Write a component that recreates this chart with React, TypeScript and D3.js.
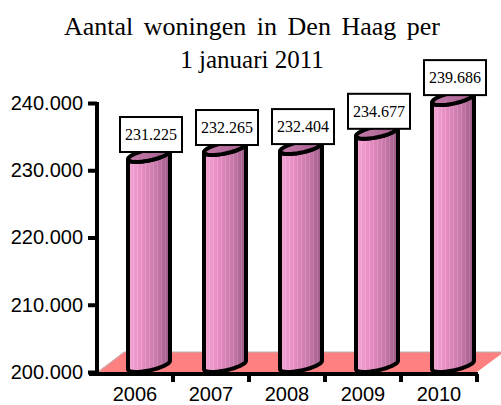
import React, { useEffect, useRef } from 'react';
import * as d3 from 'd3';

// Aantal woningen per jaar
const jaren = ['2006', '2007', '2008', '2009', '2010'];
const woningen = [231225, 232265, 232404, 234677, 239686];
const yTicks = [200000, 210000, 220000, 230000, 240000];
const titel = ['Aantal woningen in Den Haag per', '1 januari 2011'];

const App = () => {
  const ref = useRef<SVGSVGElement | null>(null);

  useEffect(() => {
    const svg = d3.select(ref.current);
    svg.selectAll('*').remove();

    const W = 501;
    const left = 97;
    const right = 477;
    const bottom = 372;
    const top = 103;
    const depth = { dx: 27, dy: -20 }; // diepte van de vloer
    const cyl = { dx: 14, dy: -7, rx: 21, ry: 5.5, k: 0.2 };

    const nl = d3.formatLocale({ decimal: ',', thousands: '.', grouping: [3], currency: ['', ''] });
    const fmt = nl.format(',');

    const x = d3.scaleBand().domain(jaren).range([left, right]).padding(0);
    const y = d3.scaleLinear().domain([200000, 240000]).range([bottom, top]);

    const defs = svg.append('defs');
    const body = defs
      .append('linearGradient')
      .attr('id', 'bodyGrad')
      .attr('x1', '0%')
      .attr('x2', '100%');
    [
      ['0%', '#f7a6d5'],
      ['35%', '#e58cc3'],
      ['70%', '#c677a8'],
      ['100%', '#9a5984'],
    ].forEach(([o, c]) => body.append('stop').attr('offset', o).attr('stop-color', c));

    const topGrad = defs
      .append('linearGradient')
      .attr('id', 'topGrad')
      .attr('x1', '0%')
      .attr('x2', '100%');
    [
      ['0%', '#c27aa9'],
      ['100%', '#a9628f'],
    ].forEach(([o, c]) => topGrad.append('stop').attr('offset', o).attr('stop-color', c));

    const pat = defs
      .append('pattern')
      .attr('id', 'stripes')
      .attr('patternUnits', 'userSpaceOnUse')
      .attr('width', 4)
      .attr('height', 10);
    pat
      .append('rect')
      .attr('x', 1)
      .attr('width', 1)
      .attr('height', 10)
      .attr('fill', '#ffffff')
      .attr('opacity', 0.15);

    // Vloer
    const floor: [number, number][] = [
      [left, bottom],
      [right, bottom],
      [right + depth.dx, bottom + depth.dy],
      [left + depth.dx, bottom + depth.dy],
    ];
    svg
      .append('polygon')
      .attr('points', floor.map(p => p.join(',')).join(' '))
      .attr('fill', '#ff8080');
    svg
      .append('path')
      .attr(
        'd',
        `M${left + 2},${bottom} L${left + depth.dx},${bottom + depth.dy} L${W},${bottom + depth.dy}`
      )
      .attr('fill', 'none')
      .attr('stroke', '#b4b4b4')
      .attr('stroke-width', 1);

    // Titel
    svg
      .append('g')
      .selectAll('text')
      .data(titel)
      .enter()
      .append('text')
      .attr('x', 252)
      .attr('y', (d, i) => 35 + i * 33)
      .attr('text-anchor', 'middle')
      .style('font-family', '"Liberation Serif", "Times New Roman", serif')
      .style('font-size', (d, i) => (i === 0 ? '26px' : '25px'))
      .style('word-spacing', (d, i) => (i === 0 ? '4px' : '0px'))
      .text(d => d);

    // Cilinders
    const pt = (t: number, cx: number, cy: number): [number, number] => [
      cx + cyl.rx * Math.cos(t),
      cy + cyl.ry * Math.sin(t) - cyl.k * cyl.rx * Math.cos(t),
    ];
    const line = d3.line();
    const N = 40;

    const bars = svg.append('g');
    jaren.forEach((jaar, i) => {
      const cx = (x(jaar) as number) + x.bandwidth() / 2 + cyl.dx;
      const cyT = y(woningen[i]) + cyl.dy;
      const cyB = y(200000) + cyl.dy;
      const pts: [number, number][] = [];
      pts.push(pt(Math.PI, cx, cyT));
      d3.range(N + 1).forEach(j => pts.push(pt(Math.PI - (Math.PI * j) / N, cx, cyB)));
      d3.range(N + 1).forEach(j => pts.push(pt((Math.PI * j) / N, cx, cyT)));
      const d = line(pts) + 'Z';

      bars.append('path').attr('d', d).attr('fill', 'url(#bodyGrad)');
      bars.append('path').attr('d', d).attr('fill', 'url(#stripes)');
      bars
        .append('path')
        .attr('d', d)
        .attr('fill', 'none')
        .attr('stroke', '#000')
        .attr('stroke-width', 4)
        .attr('stroke-linejoin', 'round');

      const ell = d3.range(N).map(j => pt((2 * Math.PI * j) / N, cx, cyT));
      bars
        .append('path')
        .attr('d', line(ell) + 'Z')
        .attr('fill', 'url(#topGrad)')
        .attr('stroke', '#000')
        .attr('stroke-width', 4)
        .attr('stroke-linejoin', 'round');
    });

    // Y-as
    const yAxis = svg
      .append('g')
      .attr('transform', `translate(${left},0)`)
      .call(
        d3
          .axisLeft(y)
          .tickValues(yTicks)
          .tickSize(9)
          .tickSizeOuter(0)
          .tickPadding(5)
          .tickFormat(d => fmt(d as number))
      );
    yAxis.select('.domain').attr('stroke-width', 4).attr('d', `M0,${top - 1}V${bottom + 2}`);
    yAxis.selectAll('.tick line').attr('stroke-width', 4);
    yAxis
      .selectAll('.tick text')
      .style('font-family', '"Liberation Sans", Arial, sans-serif')
      .style('font-size', '20px')
      .attr('fill', '#000');

    // X-as
    const xAxis = svg.append('g');
    xAxis
      .append('line')
      .attr('x1', left - 8)
      .attr('x2', right + 1)
      .attr('y1', bottom + 2)
      .attr('y2', bottom + 2)
      .attr('stroke', '#000')
      .attr('stroke-width', 4);
    xAxis
      .selectAll('.xt')
      .data(jaren)
      .enter()
      .append('line')
      .attr('x1', d => (x(d) as number) + x.bandwidth())
      .attr('x2', d => (x(d) as number) + x.bandwidth())
      .attr('y1', bottom + 2)
      .attr('y2', bottom + 10)
      .attr('stroke', '#000')
      .attr('stroke-width', 4);
    xAxis
      .selectAll('.xl')
      .data(jaren)
      .enter()
      .append('text')
      .attr('x', d => (x(d) as number) + x.bandwidth() / 2)
      .attr('y', 401)
      .attr('text-anchor', 'middle')
      .style('font-family', '"Liberation Sans", Arial, sans-serif')
      .style('font-size', '20px')
      .text(d => d);

    // Labels
    const lab = svg
      .append('g')
      .selectAll('g')
      .data(woningen)
      .enter()
      .append('g')
      .attr(
        'transform',
        (d, i) => `translate(${(x(jaren[i]) as number) + x.bandwidth() / 2 + 16},${y(d) - 45})`
      );
    lab
      .append('rect')
      .attr('x', -31)
      .attr('y', 0)
      .attr('width', 62)
      .attr('height', 35)
      .attr('fill', '#fff')
      .attr('stroke', '#000')
      .attr('stroke-width', 2);
    lab
      .append('text')
      .attr('x', 0)
      .attr('y', 23)
      .attr('text-anchor', 'middle')
      .style('font-family', '"Liberation Serif", "Times New Roman", serif')
      .style('font-size', '16px')
      .text(d => fmt(d));
  }, []);

  return (
    <svg
      ref={ref}
      width={501}
      height={405}
      style={{ position: 'absolute', left: 0, top: 0, background: '#fff' }}
    />
  );
};

export default App;
